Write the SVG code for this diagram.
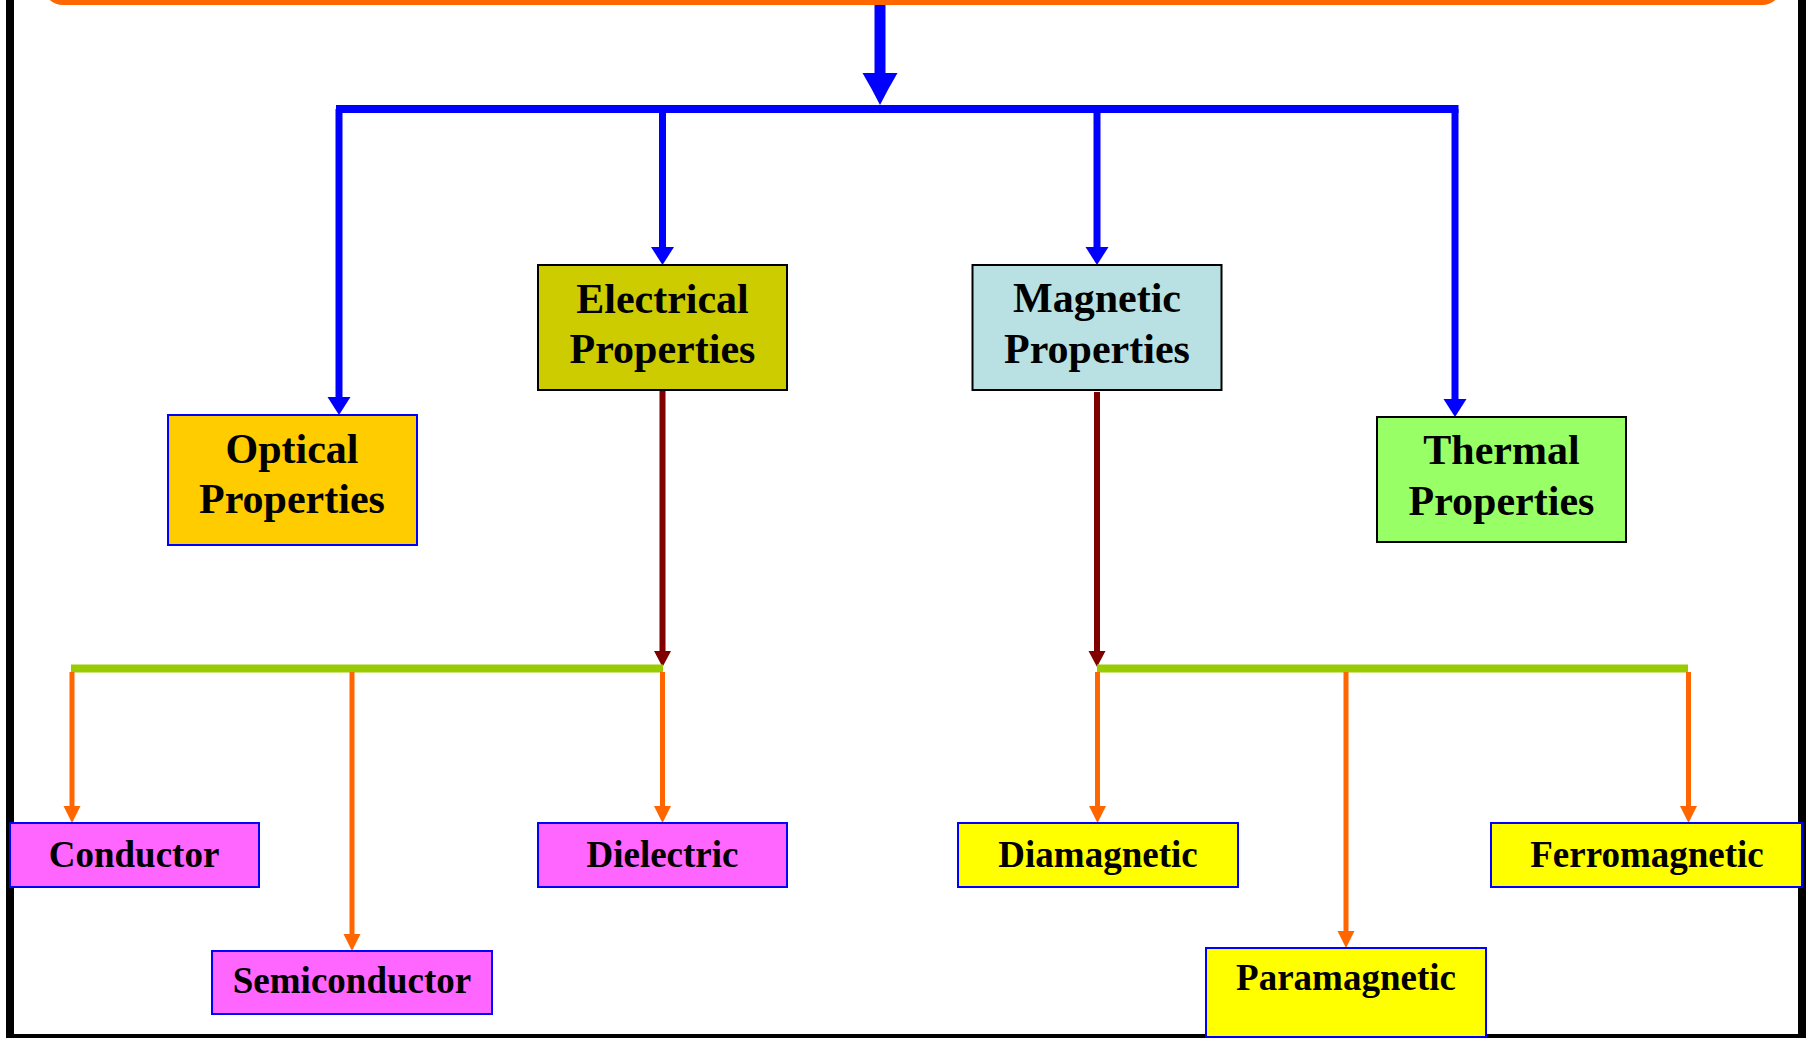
<svg xmlns="http://www.w3.org/2000/svg" width="1806" height="1038" viewBox="0 0 1806 1038">
<style>
.t{font-family:"Liberation Serif","Times New Roman",serif;font-weight:bold;fill:#000;text-anchor:middle}
.big{font-size:42px}
.sm{font-size:37px}
.bb{stroke:#0000FF;stroke-width:2}
.bk{stroke:#000;stroke-width:2}
.blue{stroke:#0000FF;stroke-width:7;fill:none}
.mar{stroke:#800000;stroke-width:6;fill:none}
.org{stroke:#FF6600;stroke-width:5;fill:none}
.grn{stroke:#99CC00;stroke-width:8;fill:none}
</style>
<defs>
<marker id="ahBlue" markerUnits="userSpaceOnUse" markerWidth="20" markerHeight="24" viewBox="0 0 20 24" refX="0" refY="12" orient="auto"><path d="M0,0.5 L18,12 L0,23.5 z" fill="#0000FF"/></marker>
<marker id="ahMain" markerUnits="userSpaceOnUse" markerWidth="34" markerHeight="36" viewBox="0 0 34 36" refX="0" refY="18" orient="auto"><path d="M0,0.5 Q16,10 32,18 Q16,26 0,35.5 z" fill="#0000FF"/></marker>
<marker id="ahOrg" markerUnits="userSpaceOnUse" markerWidth="18" markerHeight="18" viewBox="0 0 18 18" refX="0" refY="9" orient="auto"><path d="M0,0.5 L17,9 L0,17.5 z" fill="#FF6600"/></marker>
<marker id="ahMar" markerUnits="userSpaceOnUse" markerWidth="18" markerHeight="18" viewBox="0 0 18 18" refX="0" refY="9" orient="auto"><path d="M0,0.5 L16,9 L0,17.5 z" fill="#800000"/></marker>
</defs>
<rect x="0" y="0" width="1806" height="1038" fill="#FFFFFF"/>
<rect x="10" y="-20" width="1792" height="1058" fill="none" stroke="#000" stroke-width="8"/>
<g id="title">
<rect x="43" y="-40" width="1739" height="45" rx="20" ry="20" fill="#FF6600"/>
</g>
<g id="connectors">
<line class="blue" x1="880" y1="5" x2="880" y2="73" style="stroke-width:11" marker-end="url(#ahMain)"/>
<line class="blue" x1="336" y1="109" x2="1458.5" y2="109" style="stroke-width:8"/>
<line class="blue" x1="339" y1="109" x2="339" y2="397" marker-end="url(#ahBlue)"/>
<line class="blue" x1="662.5" y1="109" x2="662.5" y2="247" marker-end="url(#ahBlue)"/>
<line class="blue" x1="1097" y1="109" x2="1097" y2="247" marker-end="url(#ahBlue)"/>
<line class="blue" x1="1455" y1="109" x2="1455" y2="399" marker-end="url(#ahBlue)"/>
<line class="mar" x1="662.5" y1="390" x2="662.5" y2="651" marker-end="url(#ahMar)"/>
<line class="mar" x1="1097" y1="392" x2="1097" y2="651" marker-end="url(#ahMar)"/>
<line class="grn" x1="71" y1="668.5" x2="663" y2="668.5"/>
<line class="grn" x1="1097" y1="668.5" x2="1688" y2="668.5"/>
<line class="org" x1="72" y1="672" x2="72" y2="806" marker-end="url(#ahOrg)"/>
<line class="org" x1="352" y1="672" x2="352" y2="934" marker-end="url(#ahOrg)"/>
<line class="org" x1="662.5" y1="672" x2="662.5" y2="806" marker-end="url(#ahOrg)"/>
<line class="org" x1="1097.5" y1="672" x2="1097.5" y2="806" marker-end="url(#ahOrg)"/>
<line class="org" x1="1346" y1="672" x2="1346" y2="931" marker-end="url(#ahOrg)"/>
<line class="org" x1="1688.5" y1="672" x2="1688.5" y2="806" marker-end="url(#ahOrg)"/>
</g>
<g id="optical">
<rect class="bb" x="168" y="415" width="249" height="130" fill="#FFCC00"/>
<text class="t big" x="292" y="463">Optical</text>
<text class="t big" x="292" y="513">Properties</text>
</g>
<g id="electrical">
<rect class="bk" x="538" y="265" width="249" height="125" fill="#CCCC00"/>
<text class="t big" x="662.5" y="313">Electrical</text>
<text class="t big" x="662.5" y="363">Properties</text>
</g>
<g id="magnetic">
<rect class="bk" x="972.5" y="265" width="249" height="125" fill="#B9E0E3"/>
<text class="t big" x="1097" y="312">Magnetic</text>
<text class="t big" x="1097" y="363">Properties</text>
</g>
<g id="thermal">
<rect class="bk" x="1377" y="417" width="249" height="125" fill="#99FF66"/>
<text class="t big" x="1501.5" y="464">Thermal</text>
<text class="t big" x="1501.5" y="515">Properties</text>
</g>
<g id="conductor">
<rect class="bb" x="10" y="823" width="249" height="64" fill="#FF66FF"/>
<text class="t sm" x="134" y="867">Conductor</text>
</g>
<g id="semiconductor">
<rect class="bb" x="212" y="951" width="280" height="63" fill="#FF66FF"/>
<text class="t sm" x="352" y="993">Semiconductor</text>
</g>
<g id="dielectric">
<rect class="bb" x="538" y="823" width="249" height="64" fill="#FF66FF"/>
<text class="t sm" x="662.5" y="867">Dielectric</text>
</g>
<g id="diamagnetic">
<rect class="bb" x="958" y="823" width="280" height="64" fill="#FFFF00"/>
<text class="t sm" x="1098" y="867">Diamagnetic</text>
</g>
<g id="paramagnetic">
<rect class="bb" x="1206" y="948" width="280" height="89" fill="#FFFF00"/>
<text class="t sm" x="1346" y="990">Paramagnetic</text>
</g>
<g id="ferromagnetic">
<rect class="bb" x="1491" y="823" width="311" height="64" fill="#FFFF00"/>
<text class="t sm" x="1647" y="867">Ferromagnetic</text>
</g>
</svg>
